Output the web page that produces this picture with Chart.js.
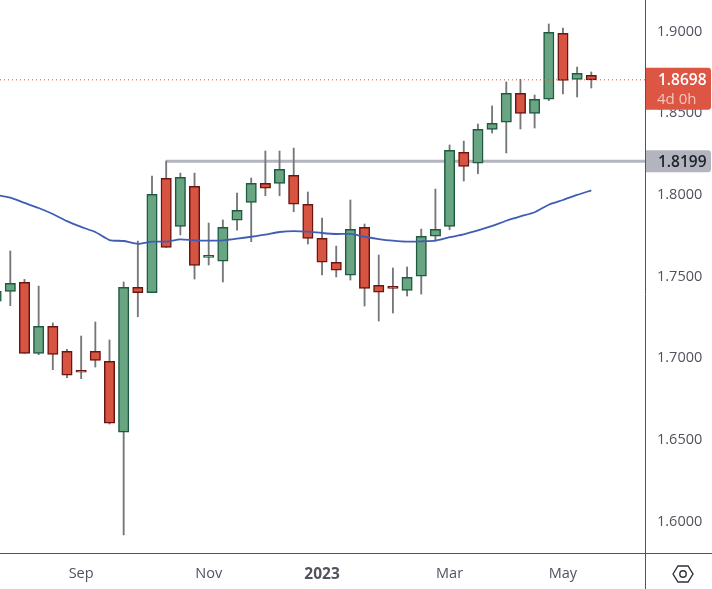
<!DOCTYPE html>
<html>
<head>
<meta charset="utf-8">
<style>html,body{margin:0;padding:0;background:#fff;overflow:hidden}canvas{display:block}</style>
<script src="https://cdn.jsdelivr.net/npm/chart.js@4"></script>
</head>
<body>
<canvas id="c" width="712" height="589"></canvas>
<script>
const opens = [1.7342,1.7403,1.7458,1.7023,1.7189,1.7035,1.6919,1.7035,1.6974,1.6541,1.7427,1.7394,1.8095,1.7801,1.8046,1.7611,1.7587,1.7838,1.7948,1.8064,1.8064,1.8113,1.7936,1.7727,1.7581,1.7501,1.7795,1.7440,1.7434,1.7409,1.7495,1.7740,1.7801,1.8254,1.8187,1.8395,1.8438,1.8615,1.8493,1.8579,1.8983,1.8701,1.8726];
const closes = [1.7403,1.7452,1.7023,1.7189,1.7017,1.6889,1.6907,1.6980,1.6596,1.7427,1.7394,1.7997,1.7672,1.8101,1.7562,1.7623,1.7795,1.7899,1.8064,1.8034,1.8150,1.7936,1.7727,1.7581,1.7532,1.7783,1.7421,1.7397,1.7421,1.7489,1.7740,1.7783,1.8266,1.8168,1.8395,1.8432,1.8615,1.8493,1.8579,1.8989,1.8695,1.8738,1.8698];
const highs = [1.7403,1.7650,1.7476,1.7435,1.7209,1.7048,1.7129,1.7215,1.7105,1.7460,1.7711,1.8109,1.8201,1.8127,1.8127,1.7821,1.7840,1.8005,1.8097,1.8262,1.8262,1.8280,1.8011,1.7852,1.7680,1.7962,1.7815,1.7625,1.7546,1.7552,1.7784,1.8029,1.8299,1.8323,1.8427,1.8538,1.8685,1.8701,1.8605,1.9040,1.9015,1.8776,1.8746];
const lows = [1.7342,1.7315,1.7023,1.7015,1.6923,1.6874,1.6868,1.6939,1.6590,1.5911,1.7247,1.7394,1.7672,1.7748,1.7478,1.7564,1.7460,1.7778,1.7707,1.7988,1.7988,1.7890,1.7693,1.7503,1.7491,1.7472,1.7313,1.7221,1.7270,1.7374,1.7386,1.7711,1.7780,1.8078,1.8123,1.8372,1.8250,1.8397,1.8403,1.8570,1.8611,1.8593,1.8648];
const maValues = [1.7993,1.7976,1.7944,1.7913,1.7876,1.7833,1.7797,1.7766,1.7717,1.7711,1.7694,1.7707,1.7707,1.7721,1.7715,1.7713,1.7715,1.7725,1.7737,1.7750,1.7766,1.7772,1.7768,1.7760,1.7754,1.7754,1.7737,1.7723,1.7713,1.7707,1.7709,1.7713,1.7734,1.7752,1.7776,1.7803,1.7835,1.7862,1.7887,1.7933,1.7962,1.7993,1.8021];
const xTickIndex = [6,15,23,32,40];
const xTickLabels = ['Sep','Nov','2023','Mar','May'];
const yTicks = [1.6,1.65,1.7,1.75,1.8,1.85,1.9];
const levelPrice = 1.8199;
const levelStart = 12;
const lastPrice = 1.8698;
const countdown = '4d 0h';
const xMin = 0.273, xMax = 45.79, yMin = 1.58004, yMax = 1.91868;

const UP='#6aa583', UPB='#1d5a3f', DN='#d85442', DNB='#6a1610';
const isUp = i => closes[i] >= opens[i];
const FONT = '"Open Sans", "Noto Sans", sans-serif';

const overlay = {
  id:'overlay',
  afterDraw(chart){
    const {ctx, chartArea:a, scales:{y}} = chart;
    const W = chart.width, H = chart.height;
    ctx.save();
    ctx.strokeStyle='#50535e'; ctx.lineWidth=1;
    ctx.beginPath();
    ctx.moveTo(Math.round(a.right)+0.5,0); ctx.lineTo(Math.round(a.right)+0.5,H);
    ctx.moveTo(0,Math.round(a.bottom)+0.5); ctx.lineTo(W,Math.round(a.bottom)+0.5);
    ctx.stroke();

    const left = a.right+1, tagW = 65;
    const py = y.getPixelForValue(lastPrice);
    ctx.fillStyle='#dd5543';
    ctx.beginPath(); ctx.roundRect(left, py-12, tagW, 42, [0,3,3,0]); ctx.fill();
    ctx.textBaseline='middle'; ctx.textAlign='left';
    ctx.fillStyle='#ffffff';
    ctx.font='600 15.5px '+FONT;
    ctx.fillText(lastPrice.toFixed(4), 658, py+1);
    ctx.fillStyle='#f6c6bf';
    ctx.font='15px '+FONT;
    ctx.fillText(countdown, 657, py+20);
    const ly = y.getPixelForValue(levelPrice);
    ctx.fillStyle='#b2b5be';
    ctx.beginPath(); ctx.roundRect(left, ly-11, tagW, 22, [0,3,3,0]); ctx.fill();
    ctx.fillStyle='#1f2128';
    ctx.font='600 15.5px '+FONT;
    ctx.fillText(levelPrice.toFixed(4), 658, ly+1);
    const cx=683, cy=574;
    ctx.strokeStyle='#2f3138'; ctx.lineWidth=1.4;
    ctx.beginPath();
    ctx.moveTo(cx-10,cy); ctx.lineTo(cx-5,cy-8); ctx.lineTo(cx+5,cy-8);
    ctx.lineTo(cx+10,cy); ctx.lineTo(cx+5,cy+8); ctx.lineTo(cx-5,cy+8); ctx.closePath();
    ctx.stroke();
    ctx.beginPath(); ctx.arc(cx,cy,3.2,0,Math.PI*2); ctx.stroke();
    ctx.restore();
  }
};

new Chart(document.getElementById('c'),{
  type:'bar',
  data:{datasets:[
    {type:'line',order:5,data:[{x:levelStart,y:levelPrice},{x:xMax,y:levelPrice}],borderColor:'#b2b5be',borderWidth:3,pointRadius:0},
    {type:'bar',order:4,grouped:false,barThickness:1.2,backgroundColor:'#767779',borderWidth:0,
      data:highs.map((h,i)=>({x:i,y:[lows[i],h]}))},
    {type:'bar',order:3,grouped:false,barThickness:10.4,borderWidth:1.5,borderSkipped:false,
      backgroundColor:opens.map((_,i)=>isUp(i)?UP:DN),
      borderColor:opens.map((_,i)=>isUp(i)?UPB:DNB),
      data:opens.map((o,i)=>({x:i,y:[Math.min(o,closes[i]),Math.max(o,closes[i])]}))},
    {type:'line',order:2,data:maValues.map((v,i)=>({x:i,y:v})),borderColor:'#3f5db2',borderWidth:1.8,pointRadius:0,tension:0.2},
    {type:'line',order:1,data:[{x:xMin,y:lastPrice},{x:xMax,y:lastPrice}],borderColor:'#d85442',borderWidth:1,borderDash:[1,3],pointRadius:0}
  ]},
  options:{
    responsive:false,animation:false,devicePixelRatio:1,
    layout:{padding:0},
    plugins:{legend:{display:false},tooltip:{enabled:false}},
    scales:{
      x:{type:'linear',offset:false,min:xMin,max:xMax,
        grid:{display:false,drawTicks:false},border:{display:false},
        afterBuildTicks(s){s.ticks=xTickIndex.map(v=>({value:v}));},
        afterFit(s){s.height=36;s.paddingLeft=0;s.paddingRight=0;},
        ticks:{autoSkip:false,maxRotation:0,padding:12,color:'#50535e',
          font:c=>({family:FONT,size:c.tick&&c.tick.value===23?15.5:14.5,weight:c.tick&&c.tick.value===23?'700':'400'}),
          callback(v){return xTickLabels[xTickIndex.indexOf(v)];}}
      },
      y:{type:'linear',position:'right',min:yMin,max:yMax,
        grid:{display:false,drawTicks:false},border:{display:false},
        afterBuildTicks(s){s.ticks=yTicks.map(v=>({value:v}));},
        afterFit(s){s.width=67;s.paddingTop=0;s.paddingBottom=0;},
        ticks:{padding:12,labelOffset:1,color:'#50535e',font:{family:FONT,size:14.5},
          callback(v){return Number(v).toFixed(4);}}
      }
    }
  },
  plugins:[overlay]
});
</script>
</body>
</html>
